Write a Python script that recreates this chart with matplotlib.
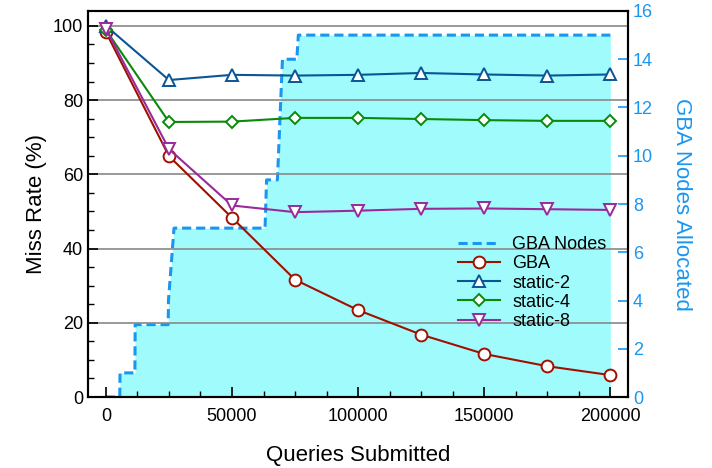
import matplotlib
matplotlib.use('Agg')
import matplotlib.pyplot as plt

plt.rcParams['font.family'] = ['Liberation Sans', 'DejaVu Sans']

# miss rate data
queries = [0, 25000, 50000, 75000, 100000, 125000, 150000, 175000, 200000]
gba = [98.3, 64.9, 48.3, 31.6, 23.4, 16.8, 11.6, 8.3, 5.9]
static2 = [100.0, 85.4, 86.8, 86.6, 86.8, 87.3, 86.9, 86.6, 86.9]
static4 = [98.9, 74.1, 74.2, 75.2, 75.2, 74.9, 74.6, 74.4, 74.4]
static8 = [99.2, 66.8, 51.6, 49.8, 50.2, 50.7, 50.8, 50.6, 50.4]

# GBA nodes allocated over time
node_x = [0, 5500, 5600, 11500, 11600, 24700, 24800, 27000, 63100, 63700,
          68000, 70000, 75700, 76300, 200000]
node_y = [0, 0, 1, 1, 3, 3, 4, 7, 7, 9, 9, 14, 14, 15, 15]

blue = '#1a96f0'

fig = plt.figure(figsize=(7.12, 4.68), dpi=100)
ax = fig.add_axes([0.1236, 0.1517, 0.7584, 0.8248])
ax2 = ax.twinx()
ax.set_zorder(ax2.get_zorder() + 1)
ax.patch.set_visible(False)

ax2.fill_between(node_x, node_y, color='#a0fcfc', lw=0)
nodes_line, = ax2.plot(node_x, node_y, '--', color=blue, lw=2.2, dashes=(3, 1.6),
                       label='GBA Nodes')

mk = dict(markerfacecolor='white', markersize=8.5, markeredgewidth=1.4, lw=1.5)
l1, = ax.plot(queries, gba, marker='o', color='#a01000', label='GBA', **mk)
l2, = ax.plot(queries, static2, marker='^', color='#0a5596', label='static-2', **mk)
l3, = ax.plot(queries, static4, marker='D', color='#0a8a0a', label='static-4',
              markerfacecolor='white', markersize=6.5, markeredgewidth=1.4, lw=1.5)
l4, = ax.plot(queries, static8, marker='v', color='#9a2a9a', label='static-8', **mk)

ax.set_xlim(-7100, 207000)
ax.set_ylim(0, 104)
ax2.set_ylim(0, 16)

ax.set_xticks([0, 50000, 100000, 150000, 200000])
ax.set_xticks(range(0, 200001, 12500), minor=True)
ax.set_yticks([0, 20, 40, 60, 80, 100])
ax.set_yticks(range(0, 101, 5), minor=True)
ax.yaxis.grid(True, color='#888888', lw=1.2)
ax.tick_params(direction='in', labelsize=13, length=7, width=1.2, right=False)
ax.tick_params(which='minor', direction='in', length=4, width=1, right=False)
ax.tick_params(axis='x', which='both', top=False)
ax.tick_params(axis='x', pad=8)

ax2.set_yticks(range(0, 17, 2))
ax2.tick_params(direction='in', labelsize=13, length=7, width=1.2,
                colors=blue)
for sp in ax.spines.values():
    sp.set_linewidth(1.5)
for sp in ax2.spines.values():
    sp.set_linewidth(1.5)

ax.set_xlabel('Queries Submitted', fontsize=16, labelpad=14)
ax.set_ylabel('Miss Rate (%)', fontsize=16, labelpad=4)
ax2.set_ylabel('GBA Nodes Allocated', fontsize=16, color=blue, rotation=270,
               labelpad=28)

leg = ax.legend(handles=[nodes_line, l1, l2, l3, l4], loc='upper left',
                bbox_to_anchor=(0.672, 0.435), frameon=False, fontsize=13,
                handlelength=2.3, labelspacing=0.12, borderaxespad=0,
                handletextpad=0.7)

fig.savefig('out.png', dpi=100)
